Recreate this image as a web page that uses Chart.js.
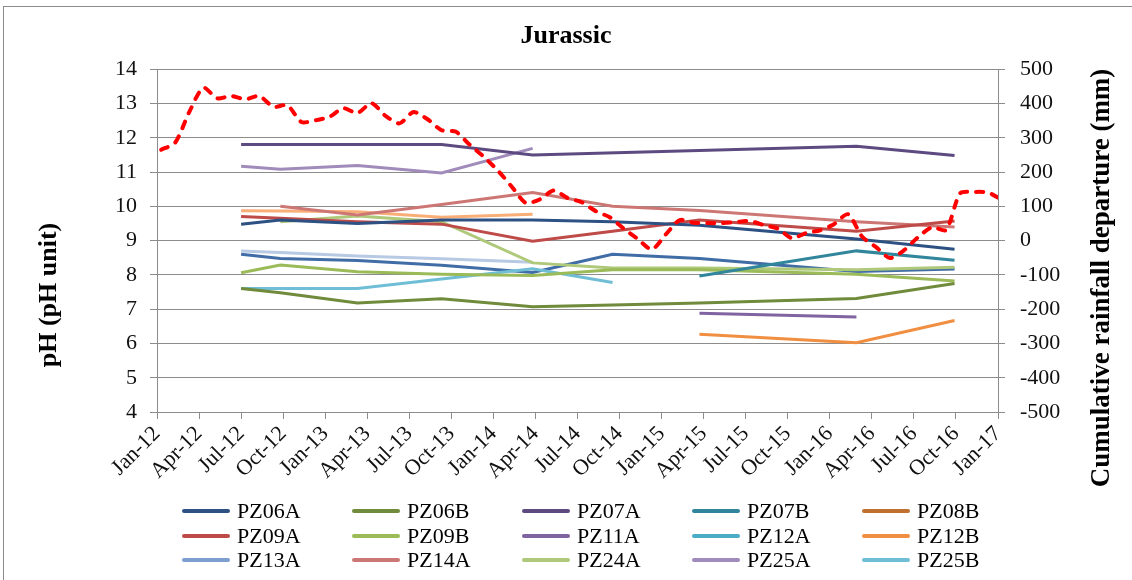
<!DOCTYPE html>
<html>
<head>
<meta charset="utf-8">
<title>Jurassic</title>
<script src="https://cdn.jsdelivr.net/npm/chart.js@4.4.1/dist/chart.umd.min.js"></script>
<style>
  html, body { margin: 0; padding: 0; background: #fff; overflow: hidden; }
  #wrap { position: relative; width: 1132px; height: 580px; overflow: hidden; }
  #frame { position: absolute; left: 3px; top: 6px; width: 1180px; height: 640px; border: 1px solid #8c8c8c; }
  canvas { position: absolute; left: 0; top: 0; }
  #legend { position: absolute; left: 0; top: 0; font-family: 'Liberation Serif', 'Times New Roman', serif; font-size: 22px; color: #000; }
  .item { position: absolute; height: 24px; display: flex; align-items: center; white-space: nowrap; }
  .item i { display: inline-block; width: 48px; height: 4px; margin-right: 7px; border-radius: 2px; }
</style>
</head>
<body>
<div id="wrap">
  <div id="frame"></div>
  <canvas id="myChart" width="1132" height="580"></canvas>
  <div id="legend"></div>
</div>
<script>
const xTickLabels = ['Jan-12','Apr-12','Jul-12','Oct-12','Jan-13','Apr-13','Jul-13','Oct-13','Jan-14','Apr-14','Jul-14',
  'Oct-14','Jan-15','Apr-15','Jul-15','Oct-15','Jan-16','Apr-16','Jul-16','Oct-16','Jan-17'];

// sampling rounds, months after 1 Jan 2012
const sampleMonths = [6.0, 8.8, 14.3, 20.3, 26.8, 32.5, 38.7, 49.9, 56.9];

// pH per well, one value per sampling round (null = not sampled)
const pz06a = [9.48, 9.6, 9.5, 9.6, 9.6, 9.55, 9.45, 9.05, 8.75];
const pz06b = [7.6, 7.48, 7.18, 7.3, 7.07, 7.12, 7.18, 7.31, 7.75];
const pz07a = [11.8, 11.8, 11.8, 11.8, 11.5, null, null, 11.75, 11.48];
const pz07b = [null, null, null, null, null, null, 7.97, 8.7, 8.43];
const pz08b = [null, null, null, null, null, null, null, null, null];
const pz09a = [9.7, 9.65, 9.55, 9.48, 8.98, 9.27, 9.6, 9.27, 9.57];
const pz09b = [8.06, 8.29, 8.09, 8.02, 7.98, 8.15, 8.15, 8.02, 7.82];
const pz11a = [null, null, null, null, null, null, 6.88, 6.77, null];
const pz12a = [null, null, null, null, null, null, null, null, null];
const pz12b = [null, null, null, null, null, null, 6.27, 6.02, 6.67];
const pz13a = [null, null, null, null, null, null, null, null, null];
const pz14a = [null, 10.0, 9.75, 10.05, 10.4, 10.0, 9.88, 9.55, 9.4];
const pz24a = [null, 9.55, 9.72, 9.55, 8.35, 8.2, 8.2, 8.15, 8.22];
const pz25a = [11.17, 11.08, 11.19, 10.97, 11.69, null, null, null, null];
const pz25b = [7.6, 7.6, 7.6, 7.88, 8.18, 7.78, null, null, null];
// wells without a legend entry
const extraPeach = [9.87, 9.86, 9.84, 9.68, 9.77, null, null, null, null];
const extraPaleBlue = [8.7, 8.65, 8.55, 8.47, 8.37, null, null, null, null];
const extraBlue = [8.6, 8.48, 8.42, 8.28, 8.07, 8.6, 8.48, 8.1, 8.17];

// cumulative rainfall departure (mm), monthly from Jan 2012 to Jan 2017
const rainfallDay = 10;
const rainfall = [265, 286, 375, 446, 415, 422, 412, 422, 390, 395,
  346, 351, 361, 386, 372, 401, 364, 342, 375, 354,
  322, 318, 280, 245, 205, 158, 110, 120, 146, 124,
  112, 86, 68, 35, 5, -26, 18, 60, 52, 51,
  51, 54, 57, 45, 35, 7, 22, 30, 48, 77,
  12, -19, -51, -28, 10, 39, 31, 138, 142, 140,
  118];

const serif = "'Liberation Serif', 'Times New Roman', serif";
const gridColor = '#8c8c8c';
Chart.defaults.font.family = serif;

const wells = [
  ['PZ06A', pz06a, '#2d5183'],
  ['PZ06B', pz06b, '#6f8b3b'],
  ['PZ07A', pz07a, '#5c4a80'],
  ['PZ07B', pz07b, '#31869c'],
  ['PZ08B', pz08b, '#c0712f'],
  ['PZ09A', pz09a, '#be4b48'],
  ['PZ09B', pz09b, '#9bbb59'],
  ['PZ11A', pz11a, '#8064a2'],
  ['PZ12A', pz12a, '#4bacc6'],
  ['PZ12B', pz12b, '#f08e41'],
  ['PZ13A', pz13a, '#7c9fd0'],
  ['PZ14A', pz14a, '#cd7775'],
  ['PZ24A', pz24a, '#afc97a'],
  ['PZ25A', pz25a, '#a08bba'],
  ['PZ25B', pz25b, '#70bdd6'],
  ['', extraPeach, '#f9ae78'],
  ['', extraPaleBlue, '#b7c9e3'],
  ['', extraBlue, '#416da6']
];

const phSets = wells.map(([name, vals, color]) => ({
  label: name,
  data: vals.map((v, i) => ({ x: sampleMonths[i], y: v })),
  borderColor: color,
  backgroundColor: color,
  borderWidth: 3,
  pointRadius: 0,
  spanGaps: true,
  yAxisID: 'y'
}));

const rainSet = {
  label: 'Cumulative rainfall departure',
  data: rainfall.map((v, i) => ({ x: i + (rainfallDay - 1) / 30, y: v })),
  borderColor: '#ff0000',
  borderWidth: 4,
  borderDash: [7, 9],
  borderCapStyle: 'round',
  pointRadius: 0,
  tension: 0.25,
  order: -1,
  yAxisID: 'y1'
};

const sideTitles = [
  { text: 'pH (pH unit)', x: 49, y: 295, size: 26 },
  { text: 'Cumulative rainfall departure (mm)', x: 1102, y: 278, size: 27 }
];

// vertical axis titles, both reading bottom to top
const sideTitlePlugin = {
  id: 'sideTitles',
  afterDraw(chart) {
    const c = chart.ctx;
    sideTitles.forEach(t => {
      c.save();
      c.translate(t.x, t.y);
      c.rotate(-Math.PI / 2);
      c.font = 'bold ' + t.size + 'px ' + serif;
      c.fillStyle = '#000';
      c.textAlign = 'center';
      c.textBaseline = 'middle';
      c.fillText(t.text, 0, 0);
      c.restore();
    });
  }
};

const tickFont = { family: serif, size: 22 };

const ctx = document.getElementById('myChart').getContext('2d');
const myChart = new Chart(ctx, {
  type: 'line',
  data: { datasets: [rainSet].concat(phSets) },
  options: {
    responsive: false,
    animation: false,
    layout: { padding: { left: 0, right: 0, top: 0, bottom: 85 } },
    plugins: {
      legend: { display: false },
      tooltip: { enabled: false },
      title: {
        display: true,
        text: 'Jurassic',
        color: '#000',
        font: { family: serif, size: 26, weight: 'bold' },
        padding: { top: 21, bottom: 17 }
      }
    },
    scales: {
      x: {
        type: 'linear',
        min: 0,
        max: 60,
        ticks: {
          stepSize: 3,
          autoSkip: false,
          maxRotation: 45,
          minRotation: 45,
          padding: 2,
          color: '#111',
          font: tickFont,
          callback: v => xTickLabels[Math.round(v / 3)]
        },
        grid: { drawOnChartArea: false, tickLength: 7, color: gridColor },
        border: { color: gridColor },
        afterFit: s => { s.height = 83; }
      },
      y: {
        position: 'left',
        min: 4,
        max: 14,
        ticks: { stepSize: 1, padding: 13, color: '#111', font: tickFont },
        grid: { color: gridColor, tickLength: 7 },
        border: { color: gridColor },
        afterFit: s => { s.width = 157; }
      },
      y1: {
        position: 'right',
        min: -500,
        max: 500,
        ticks: { stepSize: 100, padding: 15, color: '#111', font: tickFont },
        grid: { drawOnChartArea: false, tickLength: 7, color: gridColor },
        border: { color: gridColor },
        afterFit: s => { s.width = 134; }
      }
    }
  },
  plugins: [sideTitlePlugin]
});

// legend: 5 columns, row-major like the dataset order
const legendBox = document.getElementById('legend');
phSets.filter(d => d.label).forEach((d, i) => {
  const col = i % 5, row = Math.floor(i / 5);
  const item = document.createElement('div');
  item.className = 'item';
  item.style.left = (182 + col * 170) + 'px';
  item.style.top = (499 + row * 24.5) + 'px';
  const sw = document.createElement('i');
  sw.style.background = d.borderColor;
  item.appendChild(sw);
  item.appendChild(document.createTextNode(d.label));
  legendBox.appendChild(item);
});
</script>
</body>
</html>
